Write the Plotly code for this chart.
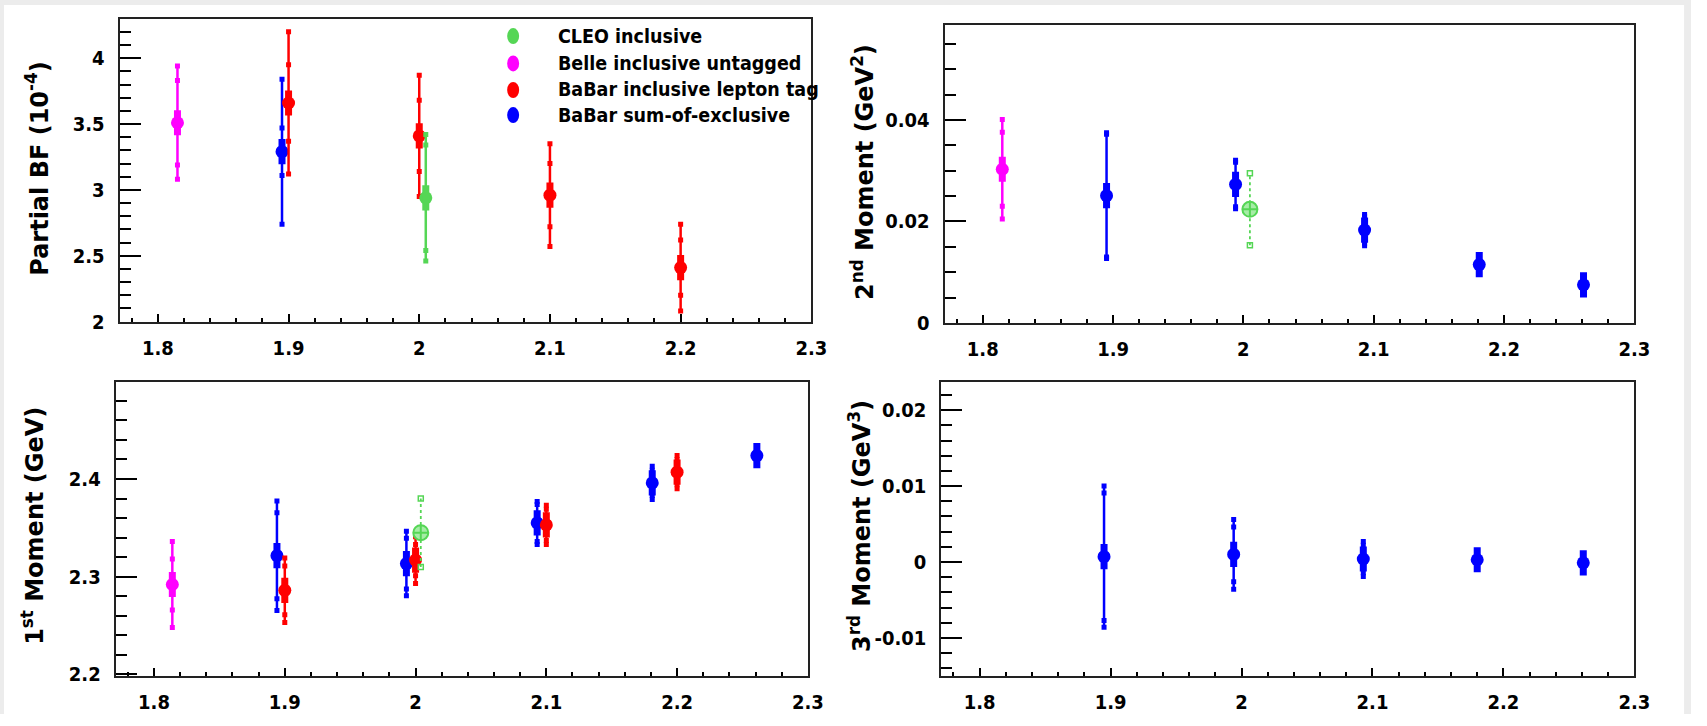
import plotly.graph_objects as go

W, H = 1707, 726

# ---------------- data ----------------
# Partial branching fraction (10^-4) vs E_gamma cut (GeV)
bf_cleo_x = [2.005]
bf_cleo_y = [2.94]
bf_cleo_tot = [0.48]
bf_cleo_stat = [0.40]

bf_belle_x = [1.815]
bf_belle_y = [3.51]
bf_belle_tot = [0.43]
bf_belle_stat = [0.32]

bf_lep_x = [1.90, 2.00, 2.10, 2.20]
bf_lep_y = [3.66, 3.41, 2.96, 2.41]
bf_lep_tot = [0.54, 0.46, 0.39, 0.33]
bf_lep_stat = [0.29, 0.27, 0.24, 0.21]

bf_soe_x = [1.895]
bf_soe_y = [3.29]
bf_soe_tot = [0.55]
bf_soe_stat = [0.18]

# 2nd moment (GeV^2)
m2_cleo_x = [2.005]
m2_cleo_y = [0.0224]
m2_cleo_tot = [0.0071]

m2_belle_x = [1.815]
m2_belle_y = [0.0303]
m2_belle_tot = [0.0098]
m2_belle_stat = [0.0073]

m2_soe_x = [1.895, 1.994, 2.093, 2.181, 2.261]
m2_soe_y = [0.0251, 0.0273, 0.0183, 0.0115, 0.0075]
m2_soe_tot = [0.0124, 0.0048, 0.0031, 0.0018, 0.0018]
m2_soe_stat = [0.0121, 0.0044, 0.0027, 0.0012, 0.0012]

# 1st moment (GeV)
m1_cleo_x = [2.004]
m1_cleo_y = [2.345]
m1_cleo_tot = [0.035]

m1_belle_x = [1.814]
m1_belle_y = [2.292]
m1_belle_tot = [0.044]
m1_belle_stat = [0.026]

m1_lep_x = [1.90, 2.00, 2.10, 2.20]
m1_lep_y = [2.286, 2.317, 2.353, 2.407]
m1_lep_tot = [0.033, 0.024, 0.020, 0.017]
m1_lep_stat = [0.025, 0.016, 0.016, 0.013]

m1_soe_x = [1.894, 1.993, 2.093, 2.181, 2.261]
m1_soe_y = [2.3215, 2.3134, 2.355, 2.396, 2.424]
m1_soe_tot = [0.056, 0.033, 0.022, 0.017, 0.008]
m1_soe_stat = [0.044, 0.026, 0.019, 0.013, 0.006]

# 3rd moment (GeV^3)
m3_soe_x = [1.895, 1.994, 2.093, 2.180, 2.261]
m3_soe_y = [0.0007, 0.0010, 0.0004, 0.0003, -0.0001]
m3_soe_tot = [0.0093, 0.0046, 0.0023, 0.0010, 0.0010]
m3_soe_stat = [0.0084, 0.0036, 0.0018, 0.0008, 0.0008]

# axis ticks
x_tickvals = [1.8, 1.9, 2.0, 2.1, 2.2, 2.3]
x_ticktext = ["1.8", "1.9", "2", "2.1", "2.2", "2.3"]
bf_tickvals = [2.0, 2.5, 3.0, 3.5, 4.0]
bf_ticktext = ["2", "2.5", "3", "3.5", "4"]
m2_tickvals = [0.0, 0.02, 0.04]
m2_ticktext = ["0", "0.02", "0.04"]
m1_tickvals = [2.2, 2.3, 2.4]
m1_ticktext = ["2.2", "2.3", "2.4"]
m3_tickvals = [-0.01, 0.0, 0.01, 0.02]
m3_ticktext = ["-0.01", "0", "0.01", "0.02"]

legend_labels = ["CLEO inclusive", "Belle inclusive untagged",
                 "BaBar inclusive lepton tag", "BaBar sum-of-exclusive"]

GREEN = "#55d655"
MAGENTA = "#ff00ff"
RED = "#ff0000"
BLUE = "#0000ff"
legend_colors = [GREEN, MAGENTA, RED, BLUE]

NARROW = "DejaVu Sans Condensed, Liberation Sans, Arial"
TICK_FONT = dict(family=NARROW, size=20, color="black", weight="bold")
TITLE_FONT = dict(family="DejaVu Sans", size=24, color="black", weight="bold")
LEGEND_FONT = dict(family=NARROW, size=19.5, color="black", weight="bold")

fig = go.Figure()


def add_points(xa, ya, x, y, tot, stat, color):
    # total error bar with filled marker
    fig.add_trace(go.Scatter(
        x=x, y=y, xaxis=xa, yaxis=ya, mode="markers",
        marker=dict(symbol="circle", size=13, color=color, line=dict(width=0)),
        error_y=dict(type="data", array=tot, color=color, thickness=2.5, width=0),
        showlegend=False, hoverinfo="skip"))
    # vertical stretch of the marker
    fig.add_trace(go.Scatter(
        x=x, y=y, xaxis=xa, yaxis=ya, mode="markers",
        marker=dict(symbol="line-ns", size=18, line=dict(width=7, color=color)),
        showlegend=False, hoverinfo="skip"))
    # small end markers at the stat and total limits
    ex, ey = [], []
    for xi, yi, t, s in zip(x, y, tot, stat):
        ex += [xi, xi, xi, xi]
        ey += [yi + t, yi - t, yi + s, yi - s]
    fig.add_trace(go.Scatter(
        x=ex, y=ey, xaxis=xa, yaxis=ya, mode="markers",
        marker=dict(symbol="square", size=5, color=color, line=dict(width=0)),
        showlegend=False, hoverinfo="skip"))


def add_open_points(xa, ya, x, y, tot, color):
    # dashed error bar and hatched open marker
    lx, ly, ex, ey = [], [], [], []
    for xi, yi, t in zip(x, y, tot):
        lx += [xi, xi, None]
        ly += [yi - t, yi + t, None]
        ex += [xi, xi]
        ey += [yi - t, yi + t]
    fig.add_trace(go.Scatter(
        x=lx, y=ly, xaxis=xa, yaxis=ya, mode="lines",
        line=dict(color=color, width=1.8, dash="dot"),
        showlegend=False, hoverinfo="skip"))
    fig.add_trace(go.Scatter(
        x=ex, y=ey, xaxis=xa, yaxis=ya, mode="markers",
        marker=dict(symbol="square-open", size=5, color=color, line=dict(width=1.5)),
        showlegend=False, hoverinfo="skip"))
    fig.add_trace(go.Scatter(
        x=x, y=y, xaxis=xa, yaxis=ya, mode="markers",
        marker=dict(symbol="circle-cross", size=15, color="#a6eca6",
                    line=dict(width=2, color=color)),
        showlegend=False, hoverinfo="skip"))


# Partial BF panel
add_points("x", "y", bf_soe_x, bf_soe_y, bf_soe_tot, bf_soe_stat, BLUE)
add_points("x", "y", bf_lep_x, bf_lep_y, bf_lep_tot, bf_lep_stat, RED)
add_points("x", "y", bf_belle_x, bf_belle_y, bf_belle_tot, bf_belle_stat, MAGENTA)
add_points("x", "y", bf_cleo_x, bf_cleo_y, bf_cleo_tot, bf_cleo_stat, GREEN)

# 2nd moment panel
add_points("x2", "y2", m2_soe_x, m2_soe_y, m2_soe_tot, m2_soe_stat, BLUE)
add_points("x2", "y2", m2_belle_x, m2_belle_y, m2_belle_tot, m2_belle_stat, MAGENTA)
add_open_points("x2", "y2", m2_cleo_x, m2_cleo_y, m2_cleo_tot, GREEN)

# 1st moment panel
add_points("x3", "y3", m1_soe_x, m1_soe_y, m1_soe_tot, m1_soe_stat, BLUE)
add_points("x3", "y3", m1_lep_x, m1_lep_y, m1_lep_tot, m1_lep_stat, RED)
add_points("x3", "y3", m1_belle_x, m1_belle_y, m1_belle_tot, m1_belle_stat, MAGENTA)
add_open_points("x3", "y3", m1_cleo_x, m1_cleo_y, m1_cleo_tot, GREEN)

# 3rd moment panel
add_points("x4", "y4", m3_soe_x, m3_soe_y, m3_soe_tot, m3_soe_stat, BLUE)


def px_dom(a, b, total):
    return [a / total, b / total]


def ypx_dom(top, bottom):
    return [1 - bottom / H, 1 - top / H]


def xaxis_cfg(dom, anchor):
    return dict(domain=dom, anchor=anchor, range=[1.7707, 2.3],
                tickmode="array", tickvals=x_tickvals, ticktext=x_ticktext,
                ticks="inside", ticklen=8, tickwidth=1.5, tickcolor="black",
                minor=dict(tickmode="linear", tick0=1.8, dtick=0.02, ticks="inside",
                           ticklen=4, tickwidth=1.5, tickcolor="black"),
                showline=True, mirror=True, linecolor="#222", linewidth=2,
                showgrid=False, zeroline=False, tickfont=TICK_FONT,
                ticklabelstandoff=7, fixedrange=True)


def yaxis_cfg(dom, anchor, rng, tv, tt, minor_dtick, tick0):
    return dict(domain=dom, anchor=anchor, range=rng,
                tickmode="array", tickvals=tv, ticktext=tt,
                ticks="inside", ticklen=21, tickwidth=1.5, tickcolor="black",
                minor=dict(tickmode="linear", tick0=tick0, dtick=minor_dtick,
                           ticks="inside", ticklen=11, tickwidth=1.5,
                           tickcolor="black"),
                showline=True, mirror=True, linecolor="#222", linewidth=2,
                showgrid=False, zeroline=False, tickfont=TICK_FONT,
                ticklabelstandoff=9, fixedrange=True)


fig.update_layout(
    width=W, height=H,
    margin=dict(l=0, r=0, t=0, b=0),
    paper_bgcolor="white", plot_bgcolor="white",
    showlegend=False,
    xaxis=xaxis_cfg(px_dom(120.7, 819, W), "y"),
    yaxis=yaxis_cfg(ypx_dom(19, 327), "x", [2.0, 4.3], bf_tickvals, bf_ticktext, 0.1, 2.0),
    xaxis2=xaxis_cfg(px_dom(953.5, 1649.8, W), "y2"),
    yaxis2=yaxis_cfg(ypx_dom(25.7, 328.3), "x2", [0.0, 0.0587], m2_tickvals, m2_ticktext, 0.005, 0.0),
    xaxis3=xaxis_cfg(px_dom(116.8, 815.5, W), "y3"),
    yaxis3=yaxis_cfg(ypx_dom(388, 687), "x3", [2.1987, 2.4997], m1_tickvals, m1_ticktext, 0.02, 2.2),
    xaxis4=xaxis_cfg(px_dom(950.2, 1649.8, W), "y4"),
    yaxis4=yaxis_cfg(ypx_dom(388, 687), "x4", [-0.01496, 0.02376], m3_tickvals, m3_ticktext, 0.002, 0.0),
)

# rotated axis titles
titles = [
    ("Partial BF (10<sup>-4</sup>)", 38, 171),
    ("2<sup>nd</sup> Moment (GeV<sup>2</sup>)", 871, 175),
    ("1<sup>st</sup> Moment (GeV)", 33, 535),
    ("3<sup>rd</sup> Moment (GeV<sup>3</sup>)", 868, 535),
]
for text, cx, cy in titles:
    fig.add_annotation(text=text, xref="paper", yref="paper",
                       x=cx / W, y=1 - cy / H, xanchor="center", yanchor="middle",
                       textangle=-90, showarrow=False, font=TITLE_FONT)

# legend
legend_rows = [36.7, 64.5, 91.5, 117.0]
for label, col, yc in zip(legend_labels, legend_colors, legend_rows):
    fig.add_shape(type="circle", xref="paper", yref="paper",
                  xsizemode="pixel", ysizemode="pixel",
                  xanchor=518 / W, yanchor=1 - yc / H,
                  x0=-6, x1=6, y0=-8, y1=8,
                  fillcolor=col, line=dict(width=0))
    fig.add_annotation(text=label, xref="paper", yref="paper",
                       x=561 / W, y=1 - yc / H, xanchor="left", yanchor="middle",
                       showarrow=False, font=LEGEND_FONT)

# light frame around the canvas
for x0, x1, y0, y1 in [(0, 4, 0, H), (0, W, 0, 5), (1700, W, 0, H)]:
    fig.add_shape(type="rect", xref="paper", yref="paper",
                  x0=x0 / W, x1=x1 / W, y0=1 - y1 / H, y1=1 - y0 / H,
                  fillcolor="#ececec", line=dict(width=0), layer="below")

fig.write_html("out.html")
